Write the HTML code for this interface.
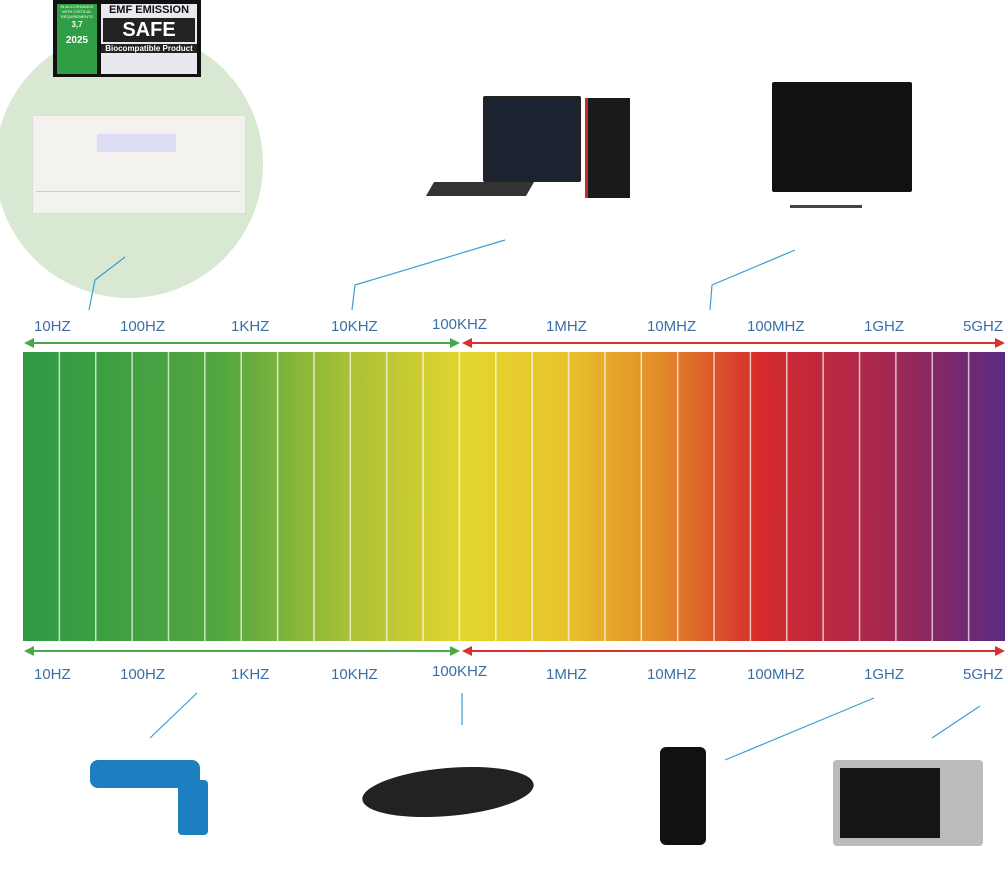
<!DOCTYPE html>
<html><head><meta charset="utf-8"><style>
body{margin:0;width:1007px;height:885px;background:#fff;position:relative;overflow:hidden;font-family:"Liberation Sans",sans-serif}
.a{position:absolute}
.lbl{position:absolute;color:#3a6ea5;font-size:15px}
</style></head><body>
<div class="a" style="left:-5px;top:30px;width:268px;height:268px;border-radius:50%;background:#d9e8d3"></div>
<div class="a" style="left:53px;top:0;width:148px;height:77px;background:#111"></div>
<div class="a" style="left:57px;top:4px;width:40px;height:70px;background:#2f9e44;color:#fff;font-size:4px;text-align:center;line-height:5px">IN ACCORDANCE WITH CRITICAL REQUIREMENTS<br><b style="font-size:8px;line-height:12px">3,7</b><br><b style="font-size:10px;line-height:20px">2025</b></div>
<div class="a" style="left:101px;top:4px;width:96px;height:70px;background:#e8e8ee;color:#111;font-weight:bold;font-size:11px;text-align:center">EMF EMISSION<div style="background:#222;color:#fff;font-size:20px;margin:2px 2px;line-height:24px">SAFE</div><div style="background:#222;color:#fff;font-size:8px">Biocompatible Product</div></div>
<div class="a" style="left:32px;top:115px;width:212px;height:97px;background:#f3f2ee;border:1px solid #ddd"></div>
<div class="a" style="left:97px;top:134px;width:79px;height:18px;background:#dcdcf4"></div>
<div class="a" style="left:36px;top:191px;width:204px;height:1px;background:#ccc"></div>
<svg class="a" style="left:0;top:0" width="1007" height="885">
<g stroke="#3aa0d0" stroke-width="1.2" fill="none">
<polyline points="125,257 95,280 89,310"/>
<polyline points="505,240 355,285 352,310"/>
<polyline points="795,250 712,285 710,310"/>
<polyline points="197,693 150,738"/>
<polyline points="462,693 462,725"/>
<polyline points="874,698 725,760"/>
<polyline points="980,706 932,738"/>
</g>
<g stroke-width="2">
<line x1="28" y1="343" x2="455" y2="343" stroke="#4aa84a"/><polygon points="24,343 34,338 34,348" fill="#4aa84a"/><polygon points="460,343 450,338 450,348" fill="#4aa84a"/>
<line x1="466" y1="343" x2="1000" y2="343" stroke="#d93030"/><polygon points="462,343 472,338 472,348" fill="#d93030"/><polygon points="1005,343 995,338 995,348" fill="#d93030"/>
<line x1="28" y1="651" x2="455" y2="651" stroke="#4aa84a"/><polygon points="24,651 34,646 34,656" fill="#4aa84a"/><polygon points="460,651 450,646 450,656" fill="#4aa84a"/>
<line x1="466" y1="651" x2="1000" y2="651" stroke="#d93030"/><polygon points="462,651 472,646 472,656" fill="#d93030"/><polygon points="1005,651 995,646 995,656" fill="#d93030"/>
</g>
<defs><linearGradient id="g" x1="0" x2="1"><stop offset="0" stop-color="#2e9a44"/><stop offset=".2" stop-color="#52a640"/><stop offset=".33" stop-color="#a8c038"/><stop offset=".45" stop-color="#e4d62e"/><stop offset=".55" stop-color="#e8c42c"/><stop offset=".65" stop-color="#e28a2a"/><stop offset=".75" stop-color="#d52a2c"/><stop offset=".87" stop-color="#a8284e"/><stop offset="1" stop-color="#5a2a82"/></linearGradient></defs>
<rect x="23" y="352" width="982" height="289" fill="url(#g)"/>
<g stroke="#fff" stroke-opacity=".7" stroke-width="1.5" id="dv"></g>
</svg>
<script>
var s='';for(var i=1;i<27;i++){var x=23+i*982/27;s+='<line x1="'+x+'" y1="352" x2="'+x+'" y2="641"/>'}document.getElementById('dv').innerHTML=s;
</script>
<div class="lbl" style="left:34px;top:318px">10HZ</div><div class="lbl" style="left:120px;top:318px">100HZ</div><div class="lbl" style="left:231px;top:318px">1KHZ</div><div class="lbl" style="left:331px;top:318px">10KHZ</div><div class="lbl" style="left:432px;top:316px">100KHZ</div><div class="lbl" style="left:546px;top:318px">1MHZ</div><div class="lbl" style="left:647px;top:318px">10MHZ</div><div class="lbl" style="left:747px;top:318px">100MHZ</div><div class="lbl" style="left:864px;top:318px">1GHZ</div><div class="lbl" style="left:963px;top:318px">5GHZ</div>
<div class="lbl" style="left:34px;top:666px">10HZ</div><div class="lbl" style="left:120px;top:666px">100HZ</div><div class="lbl" style="left:231px;top:666px">1KHZ</div><div class="lbl" style="left:331px;top:666px">10KHZ</div><div class="lbl" style="left:432px;top:663px">100KHZ</div><div class="lbl" style="left:546px;top:666px">1MHZ</div><div class="lbl" style="left:647px;top:666px">10MHZ</div><div class="lbl" style="left:747px;top:666px">100MHZ</div><div class="lbl" style="left:864px;top:666px">1GHZ</div><div class="lbl" style="left:963px;top:666px">5GHZ</div>
<!-- computer -->
<div class="a" style="left:483px;top:96px;width:92px;height:80px;background:#1b2230;border:3px solid #222;border-radius:2px"></div>
<div class="a" style="left:585px;top:98px;width:42px;height:100px;background:#1a1a1a;border-left:3px solid #c0302a"></div>
<div class="a" style="left:430px;top:182px;width:100px;height:14px;background:#333;transform:skewX(-30deg)"></div>
<!-- tv -->
<div class="a" style="left:772px;top:82px;width:140px;height:110px;background:#111;border-radius:2px"></div>
<div class="a" style="left:790px;top:195px;width:72px;height:10px;border-bottom:3px solid #444"></div>
<!-- drill -->
<div class="a" style="left:90px;top:760px;width:110px;height:28px;background:#1e7fc0;border-radius:8px"></div>
<div class="a" style="left:178px;top:780px;width:30px;height:55px;background:#1e7fc0;border-radius:4px"></div>
<!-- dish -->
<div class="a" style="left:362px;top:768px;width:172px;height:48px;border-radius:50%;background:#222;transform:rotate(-5deg)"></div>
<!-- phone -->
<div class="a" style="left:660px;top:747px;width:46px;height:98px;background:#111;border-radius:6px"></div>
<!-- microwave -->
<div class="a" style="left:833px;top:760px;width:150px;height:86px;background:#bbb;border-radius:4px"></div>
<div class="a" style="left:840px;top:768px;width:100px;height:70px;background:#151515"></div>
</body></html>
